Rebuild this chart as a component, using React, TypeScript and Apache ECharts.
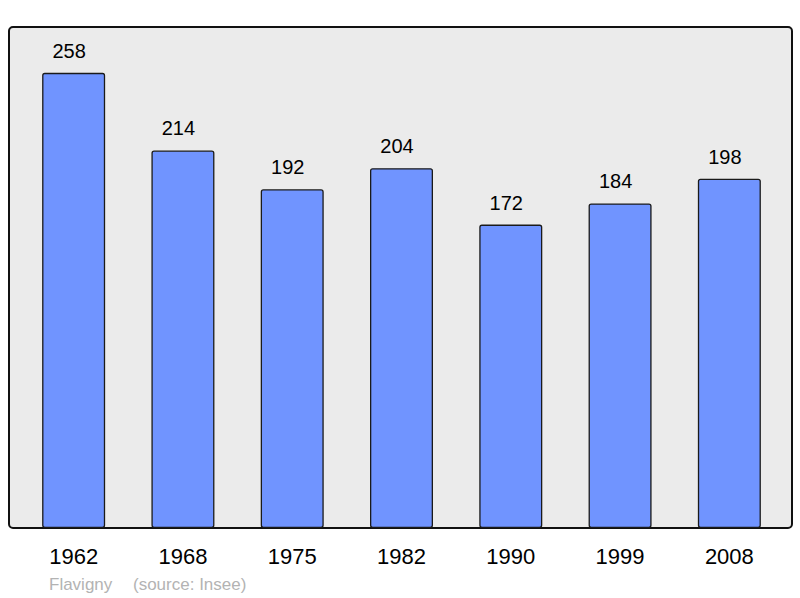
import React, { useEffect, useRef } from "react";
import * as echarts from "echarts";

const years = ["1962", "1968", "1975", "1982", "1990", "1999", "2008"];
const population = [258, 214, 192, 204, 172, 184, 198];
const footerName = "Flavigny";
const footerSource = "(source: Insee)";

export default function App() {
  const ref = useRef<HTMLDivElement>(null);
  useEffect(() => {
    document.body.style.margin = "0";
    const chart = echarts.init(ref.current!, undefined, { renderer: "svg" });
    chart.setOption({
      animation: false,
      grid: { left: 19, right: 16, top: 27, bottom: 70, containLabel: false },
      xAxis: {
        type: "category",
        data: years,
        axisLine: { show: false },
        axisTick: { show: false },
        axisLabel: {
          color: "#000",
          fontSize: 22,
          fontFamily: "Liberation Sans, Arial, sans-serif",
          margin: 17,
        },
      },
      yAxis: {
        type: "value",
        min: 0,
        max: 284,
        show: false,
        splitLine: { show: false },
      },
      graphic: [
        {
          type: "rect",
          z: 0,
          shape: { x: 9, y: 27, width: 783, height: 501, r: 4 },
          style: { fill: "#ebebeb", stroke: "#111", lineWidth: 2 },
        },
        {
          type: "text",
          x: 49,
          y: 584,
          style: {
            text: footerName,
            fill: "#b3b3b3",
            font: "17px 'Liberation Sans', Arial, sans-serif",
            textVerticalAlign: "middle",
          },
        },
        {
          type: "text",
          x: 133,
          y: 584,
          style: {
            text: footerSource,
            fill: "#b3b3b3",
            font: "17px 'Liberation Sans', Arial, sans-serif",
            textVerticalAlign: "middle",
          },
        },
      ],
      series: [
        {
          type: "bar",
          data: population,
          barWidth: 63,
          z: 2,
          itemStyle: {
            color: "#7094ff",
            borderColor: "#1a1a1a",
            borderWidth: 1.3,
            borderRadius: 2,
          },
          label: {
            show: true,
            position: "top",
            distance: 12,
            offset: [-4.5, 0],
            color: "#000",
            fontSize: 20,
            fontFamily: "Liberation Sans, Arial, sans-serif",
          },
        },
      ],
    });
    return () => chart.dispose();
  }, []);
  return <div ref={ref} style={{ width: 800, height: 598 }} />;
}
